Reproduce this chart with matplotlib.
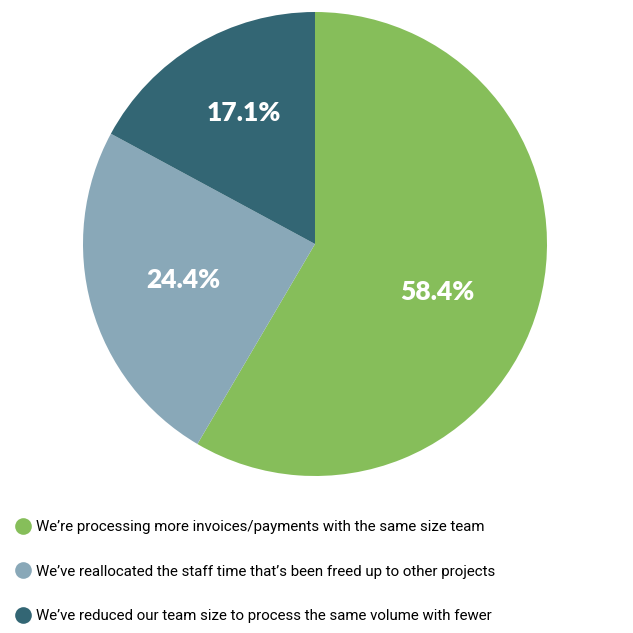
import numpy as np
import matplotlib.pyplot as plt
from matplotlib.lines import Line2D

shares = [58.4, 24.4, 17.1]
pct_labels = ["58.4%", "24.4%", "17.1%"]
labels = [
    "We\u2019re processing more invoices/payments with the same size team",
    "We\u2019ve reallocated the staff time that\u2019s been freed up to other projects",
    "We\u2019ve reduced our team size to process the same volume with fewer",
]
colors = ["#86be5a", "#89a8b8", "#336674"]

# label placement tweaks: (radius fraction, angle offset in degrees)
label_pos = [(0.565, -6.4), (0.59, -0.2), (0.64, -2.4)]

plt.rcParams["font.family"] = ["Roboto", "DejaVu Sans"]

fig = plt.figure(figsize=(6.33, 6.33), dpi=100)
ax = fig.add_axes([83 / 633, 157 / 633, 464 / 633, 464 / 633])

wedges, _ = ax.pie(shares, colors=colors, startangle=90, counterclock=False,
                   wedgeprops=dict(linewidth=0))
for w, txt, (r, dt) in zip(wedges, pct_labels, label_pos):
    ang = np.deg2rad((w.theta1 + w.theta2) / 2 + dt)
    ax.text(r * np.cos(ang), r * np.sin(ang), txt, ha="center", va="center",
            color="white", fontsize=19, fontweight="heavy", family=["Lato", "DejaVu Sans"])
ax.set_xlim(-1, 1)
ax.set_ylim(-1, 1)

handles = [Line2D([], [], marker="o", linestyle="none", markersize=12,
                  markerfacecolor=c, markeredgewidth=0) for c in colors]
fig.legend(handles, labels, loc="upper left", bbox_to_anchor=(0.012, 0.188),
           frameon=False, fontsize=10.8, labelspacing=2.05, handletextpad=0.3,
           handlelength=1.2, borderaxespad=0)

fig.savefig("out.png")
